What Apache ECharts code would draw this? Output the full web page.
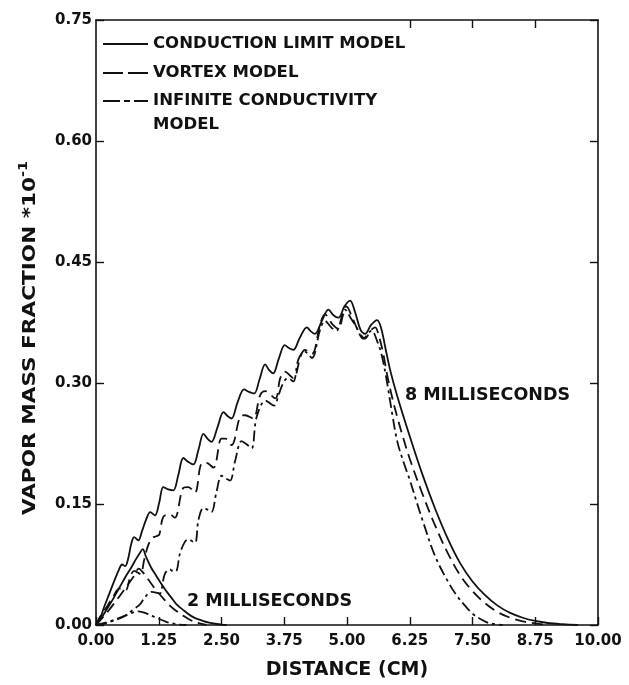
<!DOCTYPE html>
<html>
<head>
<meta charset="utf-8">
<script src="https://cdn.jsdelivr.net/npm/echarts@6/dist/echarts.min.js"></script>
<style>
  html, body { margin: 0; padding: 0; background: #fff; }
  #chart { width: 629px; height: 685px; }
</style>
</head>
<body>
<div id="chart"></div>
<script>
// Vapor mass fraction (x10^-1) versus distance (cm), three droplet models, at 2 ms and 8 ms.
const xTicks = [0, 1.25, 2.5, 3.75, 5, 6.25, 7.5, 8.75, 10];
const yTicks = [0, 0.15, 0.30, 0.45, 0.60, 0.75];

const modelNames = ['CONDUCTION LIMIT MODEL', 'VORTEX MODEL', 'INFINITE CONDUCTIVITY MODEL'];
const legendLines = [['CONDUCTION LIMIT MODEL'], ['VORTEX MODEL'], ['INFINITE CONDUCTIVITY', 'MODEL']];

// 8 milliseconds
const conduction8 = [
  [0,0],[0.08,0.008],[0.16,0.022],[0.26,0.038],[0.36,0.054],[0.46,0.069],[0.52,0.075],[0.58,0.073],
  [0.64,0.082],[0.70,0.100],[0.76,0.109],[0.84,0.105],[0.92,0.117],[1.00,0.131],[1.08,0.140],[1.175,0.136],
  [1.26,0.152],[1.34,0.171],[1.44,0.168],[1.54,0.167],[1.64,0.186],[1.74,0.207],[1.84,0.202],[1.94,0.199],
  [2.04,0.217],[2.14,0.237],[2.22,0.231],[2.30,0.227],[2.42,0.245],[2.54,0.264],[2.62,0.259],[2.70,0.256],
  [2.82,0.276],[2.95,0.292],[3.05,0.289],[3.15,0.287],[3.26,0.305],[3.37,0.323],[3.45,0.316],[3.53,0.312],
  [3.64,0.330],[3.76,0.347],[3.85,0.343],[3.93,0.341],[4.06,0.356],[4.20,0.369],[4.28,0.364],[4.36,0.361],
  [4.50,0.377],[4.63,0.391],[4.73,0.384],[4.83,0.381],[4.95,0.395],[5.06,0.402],[5.16,0.388],[5.27,0.366],
  [5.36,0.361],[5.48,0.372],[5.60,0.378],[5.68,0.368],[5.76,0.345],[5.86,0.316],[6.00,0.284],[6.25,0.234],
  [6.50,0.187],[6.75,0.145],[7.00,0.108],[7.25,0.077],[7.50,0.054],[7.75,0.037],[8.00,0.024],[8.25,0.015],
  [8.50,0.009],[8.75,0.005],[9.00,0.0025],[9.30,0.001],[9.60,0]
];
const vortex8 = [
  [0,0],[0.06,0.008],[0.14,0.016],[0.23,0.024],[0.36,0.037],[0.46,0.045],[0.53,0.045],[0.59,0.043],
  [0.69,0.061],[0.76,0.067],[0.83,0.065],[0.89,0.063],[0.96,0.081],[1.04,0.099],[1.12,0.108],[1.20,0.110],
  [1.26,0.112],[1.34,0.134],[1.47,0.137],[1.57,0.133],[1.74,0.170],[1.84,0.171],[1.97,0.164],[2.10,0.200],
  [2.20,0.201],[2.34,0.195],[2.50,0.231],[2.58,0.231],[2.70,0.223],[2.87,0.258],[2.97,0.260],[3.13,0.256],
  [3.27,0.285],[3.37,0.290],[3.57,0.281],[3.67,0.306],[3.76,0.314],[3.93,0.306],[4.08,0.334],[4.16,0.341],
  [4.30,0.336],[4.47,0.374],[4.56,0.385],[4.72,0.372],[4.83,0.367],[4.92,0.384],[4.99,0.395],[5.10,0.382],
  [5.23,0.364],[5.36,0.355],[5.47,0.365],[5.56,0.369],[5.64,0.357],[5.72,0.337],[5.80,0.310],[5.90,0.282],
  [6.00,0.258],[6.12,0.232],[6.25,0.206],[6.50,0.163],[6.75,0.124],[7.00,0.090],[7.25,0.062],[7.50,0.042],
  [7.75,0.027],[8.00,0.016],[8.25,0.009],[8.50,0.0045],[8.75,0.002],[9.00,0]
];
const infinite8 = [
  [0,0],[0.14,0.001],[0.28,0.004],[0.54,0.010],[0.74,0.019],[0.88,0.026],[0.98,0.035],[1.11,0.041],
  [1.20,0.040],[1.27,0.039],[1.37,0.063],[1.47,0.069],[1.55,0.066],[1.61,0.068],[1.67,0.088],[1.77,0.103],
  [1.84,0.106],[1.97,0.102],[2.04,0.130],[2.14,0.145],[2.22,0.143],[2.30,0.140],[2.40,0.165],[2.50,0.185],
  [2.58,0.182],[2.67,0.179],[2.77,0.203],[2.90,0.228],[3.00,0.224],[3.10,0.219],[3.20,0.258],[3.38,0.278],
  [3.55,0.272],[3.63,0.284],[3.73,0.300],[3.82,0.306],[3.93,0.302],[4.03,0.329],[4.16,0.339],[4.30,0.331],
  [4.46,0.365],[4.56,0.377],[4.70,0.368],[4.79,0.365],[4.96,0.391],[5.08,0.380],[5.19,0.369],[5.32,0.355],
  [5.49,0.365],[5.60,0.352],[5.69,0.335],[5.80,0.300],[5.90,0.262],[6.00,0.228],[6.12,0.203],[6.25,0.180],
  [6.39,0.152],[6.52,0.127],[6.75,0.086],[7.00,0.055],[7.18,0.037],[7.35,0.024],[7.52,0.013],[7.70,0.006],
  [7.85,0.002],[8.10,0]
];

// 2 milliseconds
const conduction2 = [
  [0,0],[0.1,0.008],[0.2,0.018],[0.3,0.028],[0.4,0.039],[0.5,0.050],[0.6,0.061],[0.7,0.071],[0.8,0.082],
  [0.88,0.090],[0.93,0.094],[1.0,0.084],[1.1,0.071],[1.2,0.061],[1.3,0.051],[1.4,0.042],[1.5,0.034],
  [1.6,0.026],[1.75,0.018],[1.9,0.011],[2.0,0.008],[2.25,0.003],[2.5,0.0005],[2.6,0]
];
const vortex2 = [
  [0,0],[0.2,0.014],[0.4,0.030],[0.6,0.047],[0.75,0.060],[0.85,0.070],[0.95,0.064],[1.08,0.053],[1.2,0.043],
  [1.34,0.033],[1.47,0.024],[1.61,0.017],[1.75,0.011],[1.87,0.0065],[2.0,0.003],[2.2,0]
];
const infinite2 = [
  [0,0],[0.3,0.005],[0.6,0.012],[0.85,0.017],[1.0,0.0145],[1.2,0.009],[1.4,0.004],[1.6,0.001],[1.8,0]
];

const INK = '#111';
const FONT = 'DejaVu Sans';
const dashes = ['solid', [11, 6], [11, 4, 3, 4]];
const legendDashes = [null, [20, 5], [17, 4, 6, 4]];

function curve(name, data, dash) {
  return {
    name: name,
    type: 'line',
    data: data,
    smooth: 0.35,
    showSymbol: false,
    symbol: 'none',
    silent: true,
    lineStyle: { color: INK, width: 1.8, type: dash },
    itemStyle: { color: INK }
  };
}

// Key in the upper left corner of the frame
function legendGraphics() {
  const rowsY = [44, 73, 101];
  const out = [];
  legendLines.forEach((lines, i) => {
    out.push({
      type: 'line', silent: true,
      shape: { x1: 103, y1: rowsY[i], x2: 148, y2: rowsY[i] },
      style: { stroke: INK, lineWidth: 1.8, lineDash: legendDashes[i] }
    });
    lines.forEach((t, j) => {
      out.push({
        type: 'text', silent: true, left: 153, top: rowsY[i] - 9 + j * 24,
        style: { text: t, fontFamily: FONT, fontWeight: 'bold', fontSize: 16.5, fill: INK }
      });
    });
  });
  return out;
}

const chart = echarts.init(document.getElementById('chart'), null, { renderer: 'canvas' });

const tickLabel = { fontFamily: FONT, fontWeight: 'bold', fontSize: 15, color: INK };
const frameLine = { show: true, onZero: false, lineStyle: { color: INK, width: 1.6 } };
const frameTick = { inside: true, length: 8, lineStyle: { color: INK, width: 1.4 } };

chart.setOption({
  animation: false,
  backgroundColor: '#fff',
  grid: { left: 96, right: 31, top: 20, bottom: 48, containLabel: false },
  xAxis: [
    {
      type: 'value', min: 0, max: 10, interval: 1.25,
      name: 'DISTANCE (CM)', nameLocation: 'middle', nameGap: 36,
      nameTextStyle: { fontFamily: FONT, fontWeight: 'bold', fontSize: 19, color: INK },
      axisLine: frameLine,
      axisTick: frameTick,
      axisLabel: Object.assign({ margin: 9, formatter: v => v.toFixed(2) }, tickLabel),
      splitLine: { show: false }
    },
    {
      type: 'value', min: 0, max: 10, interval: 1.25, position: 'top',
      axisLine: frameLine,
      axisTick: Object.assign({ customValues: [6.25, 7.5, 8.75] }, frameTick),
      axisLabel: { show: false },
      splitLine: { show: false }
    }
  ],
  yAxis: [
    {
      type: 'value', min: 0, max: 0.75, interval: 0.15,
      axisLine: frameLine,
      axisTick: frameTick,
      axisLabel: Object.assign({ margin: 4, formatter: v => v.toFixed(2) }, tickLabel),
      splitLine: { show: false }
    },
    {
      type: 'value', min: 0, max: 0.75, interval: 0.15, position: 'right',
      axisLine: frameLine,
      axisTick: frameTick,
      axisLabel: { show: false },
      splitLine: { show: false }
    }
  ],
  graphic: legendGraphics().concat([
    {
      // vertical axis title, stretched along its baseline
      type: 'text', silent: true, x: 30, y: 338, rotation: Math.PI / 2, scaleX: 1.2,
      style: {
        text: 'VAPOR MASS FRACTION *10{sup|-1}',
        fontFamily: FONT, fontWeight: 'bold', fontSize: 18, fill: INK,
        align: 'center', verticalAlign: 'middle',
        rich: { sup: { fontFamily: FONT, fontWeight: 'bold', fontSize: 12, fill: INK, padding: [0, 0, 12, 0] } }
      }
    },
    { type: 'text', silent: true, left: 187, top: 592, style: { text: '2 MILLISECONDS', fontFamily: FONT, fontWeight: 'bold', fontSize: 17.5, fill: INK } },
    { type: 'text', silent: true, left: 405, top: 386, style: { text: '8 MILLISECONDS', fontFamily: FONT, fontWeight: 'bold', fontSize: 17.5, fill: INK } }
  ]),
  series: [
    curve(modelNames[0], conduction8, dashes[0]),
    curve(modelNames[1], vortex8, dashes[1]),
    curve(modelNames[2], infinite8, dashes[2]),
    curve(modelNames[0], conduction2, dashes[0]),
    curve(modelNames[1], vortex2, dashes[1]),
    curve(modelNames[2], infinite2, dashes[2])
  ]
});
</script>
</body>
</html>
